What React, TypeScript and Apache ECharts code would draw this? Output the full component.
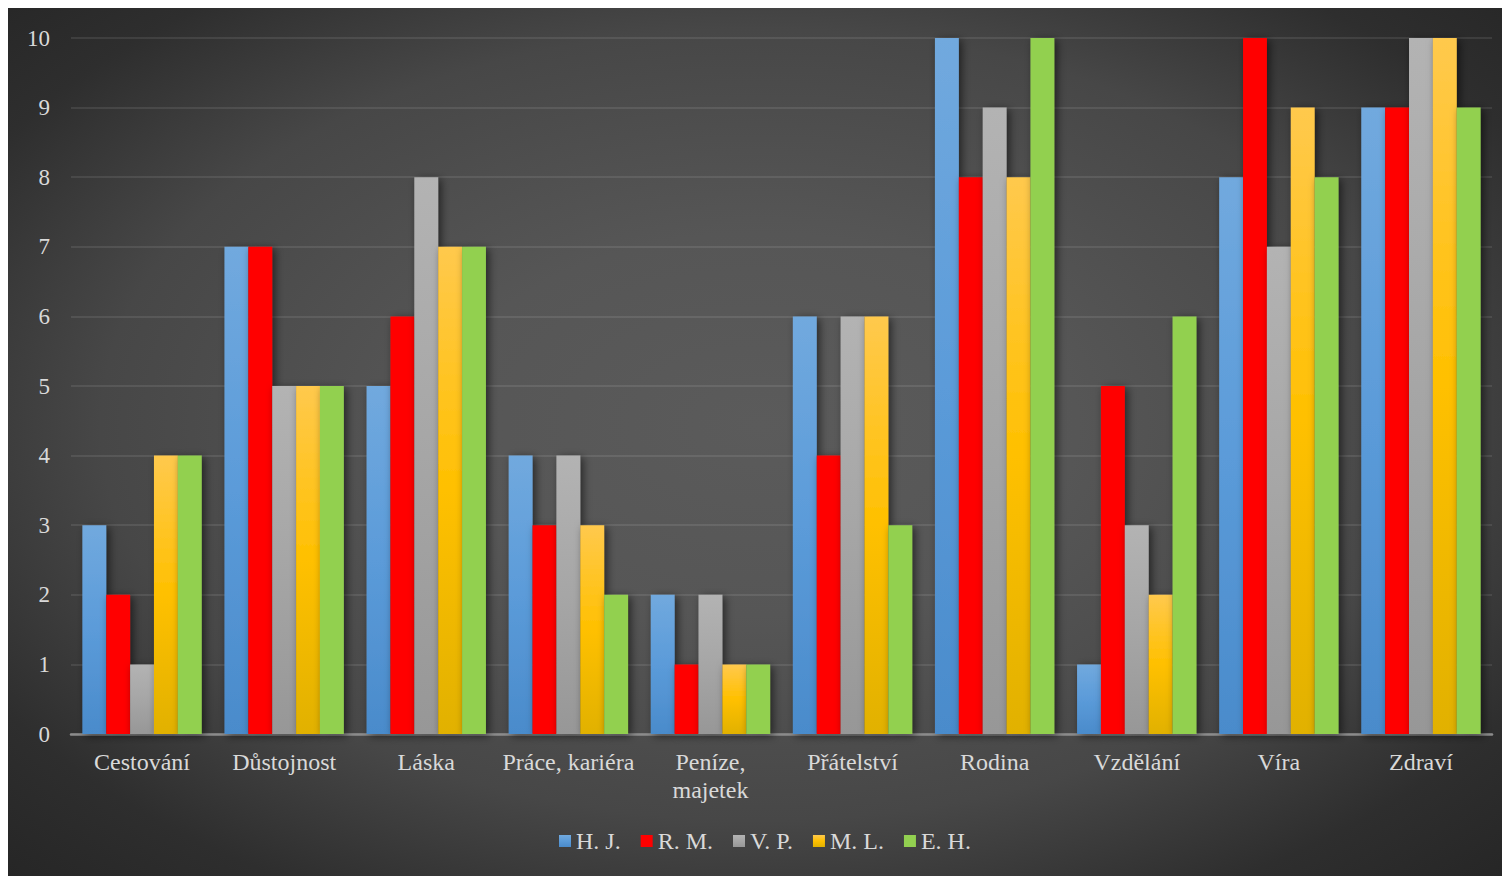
import React, { useEffect, useRef } from "react";
import * as echarts from "echarts";

// Categories (life values) and the five respondents' ratings
const categories = [
  "Cestování",
  "Důstojnost",
  "Láska",
  "Práce, kariéra",
  "Peníze,\nmajetek",
  "Přátelství",
  "Rodina",
  "Vzdělání",
  "Víra",
  "Zdraví",
];

const seriesNames = ["H. J.", "R. M.", "V. P.", "M. L.", "E. H."];

const hj = [3, 7, 5, 4, 2, 6, 10, 1, 8, 9];
const rm = [2, 7, 6, 3, 1, 4, 8, 5, 10, 9];
const vp = [1, 5, 8, 4, 2, 6, 9, 3, 7, 10];
const ml = [4, 5, 7, 3, 1, 6, 8, 2, 9, 10];
const eh = [4, 5, 7, 2, 1, 3, 10, 6, 8, 9];

const yTicks = [0, 1, 2, 3, 4, 5, 6, 7, 8, 9, 10];

const FONT = "'Liberation Serif', 'Times New Roman', serif";
const TEXT = "#d9d9d9";

function vgrad(stops: [number, string][]) {
  return new echarts.graphic.LinearGradient(
    0,
    0,
    0,
    1,
    stops.map(([offset, color]) => ({ offset, color }))
  );
}

const fills = [
  vgrad([
    [0, "#71a9de"],
    [0.5, "#5b9bd9"],
    [1, "#4a8bcb"],
  ]),
  "#ff0000",
  vgrad([
    [0, "#b3b3b3"],
    [0.5, "#a6a6a6"],
    [1, "#979797"],
  ]),
  vgrad([
    [0, "#ffc94d"],
    [0.5, "#ffc000"],
    [1, "#e1b100"],
  ]),
  "#92d050",
];

export default function App() {
  const ref = useRef<HTMLDivElement>(null);

  useEffect(() => {
    if (!ref.current) return;
    const chart = echarts.init(ref.current, undefined, { renderer: "svg" });
    const values = [hj, rm, vp, ml, eh];

    chart.setOption({
      animation: false,
      backgroundColor: "transparent",
      textStyle: { fontFamily: FONT },
      grid: { left: 63, right: 18, top: 30, bottom: 142, containLabel: false },
      legend: {
        bottom: 18,
        left: 546,
        icon: "rect",
        itemWidth: 12,
        itemHeight: 12,
        itemGap: 20,
        textStyle: { color: TEXT, fontSize: 24, fontFamily: FONT },
        data: seriesNames,
      },
      xAxis: {
        type: "category",
        data: categories,
        axisTick: { show: false },
        axisLine: { lineStyle: { color: "#8c8c8c", width: 2.5 } },
        axisLabel: {
          color: TEXT,
          fontSize: 24,
          fontFamily: FONT,
          margin: 14,
          lineHeight: 28,
          interval: 0,
        },
      },
      yAxis: {
        type: "value",
        min: yTicks[0],
        max: yTicks[yTicks.length - 1],
        interval: 1,
        axisLine: { show: false },
        axisTick: { show: false },
        axisLabel: {
          color: TEXT,
          fontSize: 23,
          fontFamily: FONT,
          margin: 21,
        },
        splitLine: {
          lineStyle: { color: "rgba(255,255,255,0.09)", width: 2 },
        },
      },
      series: seriesNames.map((name, i) => ({
        name,
        type: "bar",
        data: values[i],
        barGap: "0%",
        barCategoryGap: "16%",
        itemStyle: {
          color: fills[i],
          shadowColor: "rgba(0,0,0,0.55)",
          shadowBlur: 8,
          shadowOffsetX: 3,
          shadowOffsetY: 2,
        },
      })),
    });

    return () => chart.dispose();
  }, []);

  return (
    <div
      ref={ref}
      style={{
        width: 1502,
        height: 868,
        background:
          "radial-gradient(ellipse farthest-corner at 50% 48%, #5b5b5b 0%, #565656 30%, #474747 62%, #2e2e2e 84%, #262626 100%)",
      }}
    />
  );
}
